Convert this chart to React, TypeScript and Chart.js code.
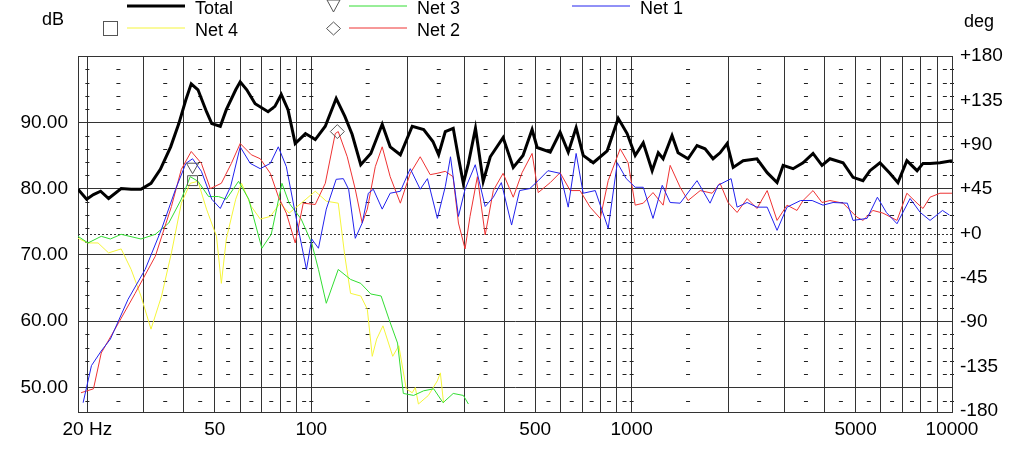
import React, { useEffect, useRef } from "react";
import { Chart, registerables } from "chart.js";
Chart.register(...registerables);

const totalHz = [18.7,19.9,20.9,22.0,23.3,25.5,27.4,29.4,31.6,33.8,36.4,38.6,40.6,42.2,44.3,47.1,48.9,52.0,54.3,58.1,60.0,62.9,66.8,73.3,77.0,80.6,84.6,89.1,95.9,102.9,110.6,119.6,127.3,134.1,142.7,153.4,166.5,176.3,189.7,206.6,224.3,239.7,249.8,262,277.4,287.7,298.3,309.4,325.5,344,362,397,427,458,489,507,557,598,634,671,706,759,839,908,968,1026,1087,1159,1211,1254,1337,1396,1500,1600,1695,1795,1888,1986,2075,2229,2462,2649,2844,2971,3191,3428,3683,3928,4159,4570,4909,5273,5545,5957,6398,6780,7230,7780,8120,8540,9170,10000];
const totalDb = [79.9,78.4,79.1,79.6,78.5,80.0,79.9,79.9,80.8,82.9,86.3,89.8,93.4,95.8,94.9,91.6,89.8,89.4,91.9,94.9,96.1,94.9,92.8,91.6,92.4,94.2,91.9,86.8,88.3,87.4,89.4,93.6,90.9,88.2,83.6,85.3,89.7,86.3,85.1,89.4,88.9,87.1,85.1,88.6,89.1,84.8,80.8,83.8,89.1,81.1,84.8,87.7,83.2,85.0,88.9,86.2,85.5,88.5,85.5,89.2,85.0,83.9,85.7,90.6,88.3,85.0,86.9,82.7,85.4,84.5,88.0,85.4,84.5,86.5,86.0,84.5,85.4,86.8,83.2,84.2,84.5,82.4,80.9,83.5,83.0,83.9,85.3,83.5,84.5,83.9,81.7,81.2,82.7,83.9,82.3,80.9,84.2,82.7,83.8,83.8,83.9,84.2];

const net2Hz = [19.1,20.9,22.1,25.0,28.2,32.6,36.6,39.3,42.2,45.4,48.4,52.4,56.3,60.0,65.0,69.3,74.5,78.9,83.6,89.1,94.4,102.9,110.6,118.8,121.4,129.5,137.2,144.2,149.6,158.4,166.5,176.3,189.7,203.7,218.8,235,247,262,277,288,302,313,330,349,370,397,427,455,489,511,557,598,643,690,742,798,845,921,975,1026,1087,1166,1254,1319,1417,1500,1637,1783,1888,2000,2134,2293,2462,2649,2844,3055,3282,3428,3683,3928,4159,4570,5047,5273,5665,6090,6734,7230,7780,8120,8540,9170,10000];
const net2Db = [49.2,49.8,55.2,59.7,64.2,69.8,77.3,82.9,85.6,83.8,80.0,80.8,83.8,86.8,85.1,84.5,82.3,78.8,76.3,71.8,77.8,77.6,80.8,88.3,88.6,84.8,79.9,74.8,76.9,83.3,86.3,81.8,77.8,82.3,84.8,82.1,82.3,82.6,81.8,74.8,70.9,75.8,81.8,73.0,79.7,82.3,78.7,82.4,85.3,79.4,80.9,82.4,79.7,79.7,77.2,75.5,81.2,86.0,83.9,77.5,77.8,79.4,77.5,83.5,80.2,78.2,79.7,79.3,80.8,77.9,76.4,78.5,77.0,79.7,75.2,77.5,76.7,78.2,79.7,77.9,78.2,77.8,75.7,75.2,76.7,76.3,75.2,79.3,77.8,77.0,78.7,79.3,79.3];

const net1Hz = [19.4,20.6,22.1,23.6,26.8,30.3,34.1,37.7,40.6,42.6,45.4,48.9,52.0,56.0,60.0,64.5,69.3,74.5,78.9,83.6,89.1,96.6,100.3,105.3,111.4,119.6,125.9,130.8,137.2,144.2,150.7,156.2,166.5,176.3,189.7,203.7,218.8,230.5,247.5,262,272,288,302,325,349,370,392,422,447,481,511,548,598,634,671,706,770,845,902,962,1026,1087,1166,1246,1319,1417,1600,1757,1862,2044,2134,2293,2462,2649,2844,3055,3367,3660,3957,4253,4714,4909,5430,5850,6240,6734,7400,7960,8540,9340,9820];
const net1Db = [47.7,53.3,55.5,57.3,63.3,67.8,73.9,79.9,83.8,84.5,82.6,78.4,77.0,80.3,86.3,83.8,83.0,83.8,86.3,83.3,76.3,67.8,72.4,71.0,76.9,81.4,81.5,79.9,72.5,74.8,79.3,79.9,76.9,79.3,79.6,83.0,79.9,81.5,75.5,80.3,84.8,75.8,79.9,83.6,77.3,78.7,80.9,74.5,79.7,80.0,81.2,82.7,82.3,77.2,85.3,79.3,79.7,74.0,83.9,81.5,80.2,80.2,75.5,80.5,77.9,77.8,81.2,77.8,80.5,81.5,77.2,77.9,77.2,77.2,73.7,77.2,78.2,78.2,77.5,77.9,77.8,75.2,75.5,78.7,76.4,74.7,78.5,76.4,75.2,76.7,76.0];

const net3Hz = [18.7,20.1,22.1,23.6,25.5,29.4,32.6,35.9,39.3,41.9,44.3,47.8,51.3,54.3,59.3,63.8,70.1,75.0,81.0,85.3,93.0,100.3,105.3,111.4,121.4,132.6,142.7,153.4,165.2,174.8,185.9,193.8,208.7,224.3,241.0,257.8,277.4,298.3,309.4];
const net3Db = [72.8,71.8,72.8,72.4,73.1,72.4,73.1,74.8,78.4,81.8,81.1,78.8,78.8,78.4,81.1,78.4,71.0,73.1,80.8,77.8,75.4,71.8,67.8,62.7,67.8,66.3,65.7,64.1,63.8,60.3,56.7,49.1,48.8,49.5,49.8,47.7,49.1,48.8,47.5];

const net4Hz = [18.7,20.1,21.6,23.3,25.5,27.4,29.4,31.6,34.1,36.6,39.3,41.9,44.3,47.1,50.6,52.4,54.3,58.1,60.6,65.0,69.3,74.5,79.9,85.3,93.0,102.9,111.4,121.4,127.3,132.6,142.7,149.6,155,160,167.4,179.6,187.6,197.9,206.6,211.2,216,232,247.5,252.9,258.7];
const net4Db = [72.5,71.8,71.8,70.3,70.9,67.8,63.8,58.8,63.8,70.3,77.8,80.8,81.1,76.9,72.8,65.7,72.4,78.4,80.8,77.3,75.4,75.8,77.8,76.3,77.8,79.6,78.1,77.8,69.8,64.2,63.8,61.8,54.7,57.3,59.3,54.7,56.3,49.8,49.2,50.0,47.5,48.8,51.0,52.2,47.7];

const markerNet3 = { hz: 42.6, db: 83.3 };
const markerNet4 = { hz: 42.6, db: 81.2 };
const markerNet2 = { hz: 120.6, db: 88.6 };

const dbTicks = [50, 60, 70, 80, 90];
const degTicks = [-180, -135, -90, -45, 0, 45, 90, 135, 180];
const freqGrid = [20,30,40,50,60,70,80,90,100,200,300,400,500,600,700,800,900,1000,2000,3000,4000,5000,6000,7000,8000,9000,10000];
const freqLabels: Record<number, string> = { 20: "20 Hz", 50: "50", 100: "100", 500: "500", 1000: "1000", 5000: "5000", 10000: "10000" };
const minorFreqs = [25,35,45,55,65,75,85,95,150,250,350,450,550,650,750,850,950,1500,2500,3500,4500,5500,6500,7500,8500,9500,20,100,1000,10000];

const pts = (xs: number[], ys: number[]) => xs.map((x, i) => ({ x, y: ys[i] }));

const FONT = "Liberation Sans, Arial, sans-serif";

const overlay = {
  id: "overlay",
  beforeDatasetsDraw(chart: any) {
    const { ctx, chartArea: a, scales } = chart;
    const x = scales.x, y = scales.y, r = scales.yr;
    ctx.save();
    ctx.fillStyle = "#222";
    for (let d = 48; d < 100; d += 2) {
      if (d % 10 === 0) continue;
      const py = Math.round(y.getPixelForValue(d)) + 0.5;
      for (const f of minorFreqs) {
        const px = x.getPixelForValue(f);
        ctx.fillRect(px - 2, py - 0.5, 4, 1);
      }
    }
    ctx.strokeStyle = "#333";
    ctx.setLineDash([2, 2]);
    ctx.lineWidth = 1;
    const zy = Math.round(r.getPixelForValue(0)) + 0.5;
    ctx.beginPath();
    ctx.moveTo(a.left, zy);
    ctx.lineTo(a.right, zy);
    ctx.stroke();
    ctx.setLineDash([]);
    ctx.strokeStyle = "#333";
    ctx.strokeRect(a.left + 0.5, a.top + 0.5, a.right - a.left, a.bottom - a.top);
    ctx.restore();
  },
  afterDraw(chart: any) {
    const ctx = chart.ctx;
    ctx.save();
    ctx.font = `18px ${FONT}`;
    ctx.fillStyle = "#000";
    ctx.textBaseline = "alphabetic";
    ctx.fillText("dB", 42, 25);
    ctx.fillText("deg", 964, 27);
    const line = (x1: number, x2: number, yy: number, c: string, w: number) => {
      ctx.strokeStyle = c; ctx.lineWidth = w;
      ctx.beginPath(); ctx.moveTo(x1, yy); ctx.lineTo(x2, yy); ctx.stroke();
    };
    line(127, 185, 6, "#000", 3);
    ctx.fillText("Total", 195, 14);
    line(349, 407, 6, "#33dd33", 1);
    ctx.fillText("Net 3", 417, 14);
    line(572, 630, 6, "#2222ee", 1);
    ctx.fillText("Net 1", 640, 14);
    line(127, 185, 28, "#f5f53a", 1);
    ctx.fillText("Net 4", 195, 36);
    line(349, 407, 28, "#ee3333", 1);
    ctx.fillText("Net 2", 417, 36);
    ctx.strokeStyle = "#555"; ctx.lineWidth = 1;
    ctx.strokeRect(103.5, 21.5, 14, 14);
    ctx.beginPath(); ctx.moveTo(327, 0); ctx.lineTo(340, 0); ctx.lineTo(333.5, 12); ctx.closePath(); ctx.stroke();
    ctx.beginPath(); ctx.moveTo(333.5, 22); ctx.lineTo(340.5, 28.5); ctx.lineTo(333.5, 35); ctx.lineTo(326.5, 28.5); ctx.closePath(); ctx.stroke();
    ctx.restore();
  },
};

export default function App() {
  const ref = useRef<HTMLCanvasElement>(null);
  useEffect(() => {
    const line = (label: string, data: any, color: string, w: number) => ({
      label, data, borderColor: color, borderWidth: w, pointRadius: 0, showLine: true, tension: 0, yAxisID: "y",
    });
    const marker = (m: { hz: number; db: number }, style: string, rot: number, rad: number) => ({
      label: "m", data: [{ x: m.hz, y: m.db }], showLine: false, pointStyle: style, rotation: rot,
      pointRadius: rad, borderColor: "#555", borderWidth: 1, backgroundColor: "rgba(0,0,0,0)", yAxisID: "y",
    });
    const chart = new Chart(ref.current!, {
      type: "scatter",
      data: {
        datasets: [
          marker(markerNet3, "triangle", 180, 7),
          marker(markerNet4, "rect", 0, 7),
          marker(markerNet2, "rectRot", 0, 7),
          line("Total", pts(totalHz, totalDb), "#000", 3),
          line("Net 1", pts(net1Hz, net1Db), "#2222ee", 1),
          line("Net 2", pts(net2Hz, net2Db), "#ee3333", 1),
          line("Net 3", pts(net3Hz, net3Db), "#33dd33", 1),
          line("Net 4", pts(net4Hz, net4Db), "#f5f53a", 1),
        ] as any,
      },
      options: {
        animation: false,
        responsive: false,
        layout: { padding: { top: 56, left: 0, right: 0, bottom: 0 } },
        plugins: { legend: { display: false }, tooltip: { enabled: false } },
        scales: {
          x: {
            type: "logarithmic", min: 18.7, max: 10000,
            afterBuildTicks: (s: any) => { s.ticks = freqGrid.map((v) => ({ value: v })); },
            afterFit: (s: any) => { s.height = 50; },
            ticks: { autoSkip: false, maxRotation: 0, padding: 6, color: "#000", font: { size: 19, family: FONT },
              callback: (v: any) => freqLabels[v as number] ?? "" },
            grid: { color: "#333", drawTicks: false },
            border: { color: "#333" },
          },
          y: {
            position: "left", min: 46.3, max: 100,
            afterBuildTicks: (s: any) => { s.ticks = dbTicks.map((v) => ({ value: v })); },
            afterFit: (s: any) => { s.width = 78; },
            ticks: { padding: 10, color: "#000", font: { size: 19, family: FONT }, callback: (v: any) => Number(v).toFixed(2) },
            grid: { color: "#333", drawTicks: false },
            border: { color: "#333" },
          },
          yr: {
            position: "right", min: -181, max: 180,
            afterBuildTicks: (s: any) => { s.ticks = degTicks.map((v) => ({ value: v })); },
            afterFit: (s: any) => { s.width = 72; },
            ticks: { padding: 8, color: "#000", font: { size: 19, family: FONT },
              callback: (v: any) => (Number(v) >= 0 ? "+" + v : String(v)) },
            grid: { display: false, drawTicks: false },
            border: { color: "#333" },
          },
        },
      } as any,
      plugins: [overlay],
    });
    return () => chart.destroy();
  }, []);
  return (
    <div style={{ position: "fixed", left: 0, top: 0, width: 1024, height: 462, background: "#fff" }}>
      <canvas ref={ref} width={1024} height={462} style={{ width: 1024, height: 462 }} />
    </div>
  );
}
